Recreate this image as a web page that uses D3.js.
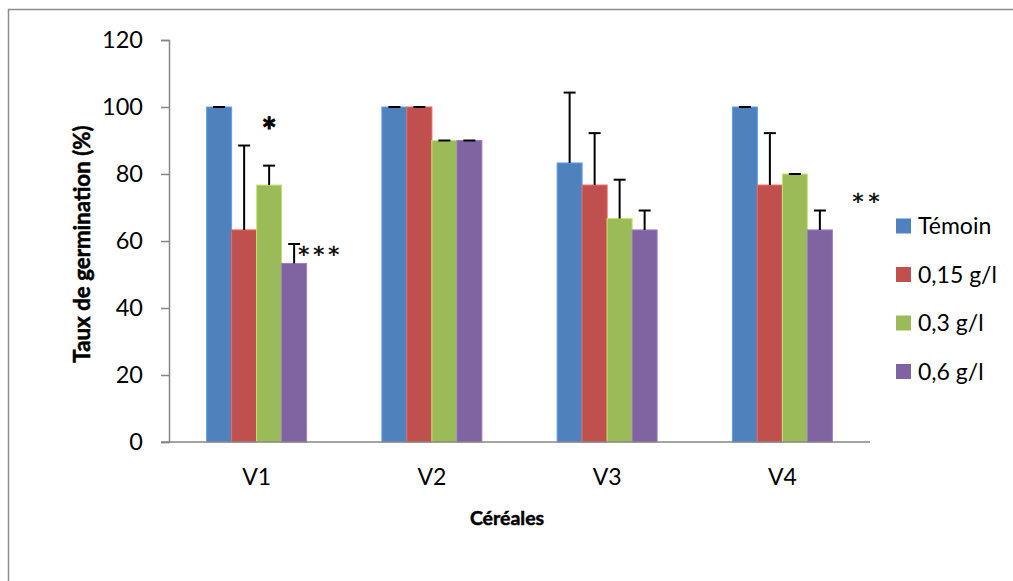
<!DOCTYPE html>
<html><head><meta charset="utf-8">
<script src="https://cdn.jsdelivr.net/npm/d3@7"></script>
<style>html,body{margin:0;padding:0;background:#fff;}svg{display:block;}</style>
</head><body>
<svg id="c" width="1013" height="581"></svg>
<script>
const categories = ["V1", "V2", "V3", "V4"];
const seriesNames = ["Témoin", "0,15 g/l", "0,3 g/l", "0,6 g/l"];
const temoin = [100, 100, 83.3, 100];
const g015 = [63.3, 100, 76.7, 76.7];
const g03 = [76.7, 90, 66.7, 80];
const g06 = [53.3, 90, 63.3, 63.3];
const errTemoin = [0, 0, 21, 0];
const err015 = [25.2, 0, 15.5, 15.5];
const err03 = [5.8, 0, 11.6, 0];
const err06 = [5.8, 0, 5.8, 5.8];
const yTicks = [0, 20, 40, 60, 80, 100, 120];
const colors = ["#4F81BD", "#C0504D", "#9BBB59", "#8064A2"];
const annotations = [
  {cat: "V1", series: 2, text: "*", bold: true},
  {cat: "V1", series: 3, text: "***", bold: false},
  {cat: "V4", series: 3, text: "**", bold: false}
];

const values = [temoin, g015, g03, g06];
const errs = [errTemoin, err015, err03, err06];
const font = "Lato, 'Open Sans', sans-serif";

const svg = d3.select("#c");
svg.append("path").attr("d", "M8.5,581 V9.5 H1013").attr("fill", "none")
  .attr("stroke", "#8c8c8c").attr("stroke-width", 1.5);

const pLeft = 169, pRight = 870, pTop = 40, pBottom = 442;
const x = d3.scaleBand().domain(categories).range([pLeft, pRight]);
const y = d3.scaleLinear().domain([0, 120]).range([pBottom, pTop]);
const barW = 25;
const xs = d3.scaleBand().domain(d3.range(4)).range([0, barW * 4]);

const g = svg.append("g");
categories.forEach((c, i) => {
  const gx = x(c) + x.bandwidth() / 2 - barW * 2;
  values.forEach((vals, s) => {
    const bx = gx + xs(s);
    g.append("rect").attr("x", bx).attr("y", y(vals[i]))
      .attr("width", barW).attr("height", y(0) - y(vals[i]))
      .attr("fill", colors[s]).attr("stroke", d3.color(colors[s]).brighter(0.6))
      .attr("stroke-width", 1);
    const cx = bx + barW / 2;
    const ty = y(vals[i] + errs[s][i]);
    if (errs[s][i] > 0) {
      g.append("line").attr("x1", cx).attr("x2", cx).attr("y1", y(vals[i])).attr("y2", ty)
        .attr("stroke", "#000").attr("stroke-width", 2);
    }
    g.append("line").attr("x1", cx - 6).attr("x2", cx + 6).attr("y1", ty).attr("y2", ty)
      .attr("stroke", "#000").attr("stroke-width", 2);
  });
});

const yAxis = d3.axisLeft(y).tickValues(yTicks).tickSize(8).tickPadding(18);
const ya = svg.append("g").attr("transform", `translate(${pLeft},0)`).call(yAxis);
ya.select(".domain").attr("stroke", "#868686").attr("stroke-width", 1.5);
ya.selectAll(".tick line").attr("stroke", "#868686").attr("stroke-width", 1.5);
ya.selectAll(".tick text").attr("font-family", font).attr("font-size", 23.5).attr("fill", "#000");

const xAxis = d3.axisBottom(x).tickSize(0).tickPadding(27);
const xa = svg.append("g").attr("transform", `translate(0,${pBottom})`).call(xAxis);
xa.select(".domain").attr("stroke", "#868686").attr("stroke-width", 1.5).attr("d", `M${pLeft - 8},0H${pRight}`);
xa.selectAll(".tick text").attr("font-family", font).attr("font-size", 23).attr("fill", "#000");

annotations.forEach(a => {
  const i = categories.indexOf(a.cat);
  const s = a.series;
  const gx = x(a.cat) + x.bandwidth() / 2 - barW * 2 + xs(s);
  const topv = values[s][i] + errs[s][i];
  if (a.bold) {
    svg.append("text").attr("x", gx + barW / 2).attr("y", y(topv) - 22)
      .attr("text-anchor", "middle").attr("font-family", font).attr("font-weight", "bold")
      .attr("font-size", 36).attr("stroke", "#000").attr("stroke-width", 0.8).text(a.text);
  } else if (a.cat === "V1") {
    svg.append("text").attr("x", gx + barW / 2 + 4).attr("y", y(topv) + 18)
      .attr("font-family", "'DejaVu Sans', sans-serif").attr("font-size", 22).attr("letter-spacing", 4)
      .attr("stroke", "#000").attr("stroke-width", 0.5).text(a.text);
  } else {
    svg.append("text").attr("x", gx + barW + 20).attr("y", y(topv) - 2)
      .attr("font-family", "'DejaVu Sans', sans-serif").attr("font-size", 22).attr("letter-spacing", 5)
      .attr("stroke", "#000").attr("stroke-width", 0.5).text(a.text);
  }
});

svg.append("text").attr("transform", "translate(90,244) rotate(-90)").attr("text-anchor", "middle")
  .attr("font-family", font).attr("font-weight", "bold").attr("font-size", 22.3)
  .attr("stroke", "#000").attr("stroke-width", 0.5).text("Taux de germination (%)");
svg.append("text").attr("x", 507).attr("y", 525).attr("text-anchor", "middle")
  .attr("font-family", font).attr("font-weight", "bold").attr("font-size", 19.5)
  .attr("stroke", "#000").attr("stroke-width", 0.5).text("Céréales");

const lg = svg.append("g");
seriesNames.forEach((n, k) => {
  const cy = 226 + k * 48.5;
  lg.append("rect").attr("x", 896).attr("y", cy - 7.5).attr("width", 15).attr("height", 15).attr("fill", colors[k]);
  lg.append("text").attr("x", 918).attr("y", cy + 8).attr("font-family", font).attr("font-size", 23).text(n);
});
</script>
</body></html>
